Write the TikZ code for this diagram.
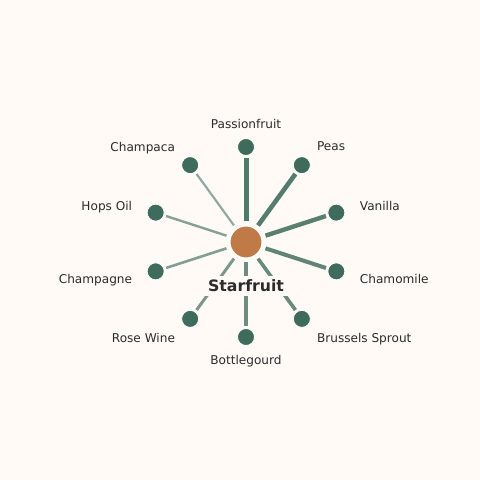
\documentclass[tikz,border=0pt]{standalone}
\usepackage{fontspec}
\setmainfont{DejaVu Sans}
\usetikzlibrary{calc}
\definecolor{bgcol}{HTML}{FFFAF6}
\definecolor{leafcol}{HTML}{3E6B5C}
\definecolor{hubcol}{HTML}{C07A48}
\definecolor{txtcol}{HTML}{2B2B2B}
\tikzset{
    leaf/.style={circle,fill=leafcol,draw=white,line width=0.8bp,minimum size=17bp,inner sep=0pt},
    hub/.style={circle,fill=hubcol,draw=white,line width=2bp,minimum size=33bp,inner sep=0pt},
    link/.style={draw=leafcol,line cap=butt,shorten <=3bp,shorten >=2bp},
    tag/.style={text=txtcol,inner sep=1.5bp,text depth=0pt,font=\fontsize{12.1bp}{14bp}\selectfont}
}
\begin{document}
\begin{tikzpicture}[x=1bp,y=1bp]
    \useasboundingbox (0,0) rectangle (480,480);
    \fill[bgcol] (0,0) rectangle (480,480);%背景
    \coordinate (o) at (246,238);
    \node[hub] (star) at (o) {};%中心
    % 外圈的点
    \node[leaf] (passionfruit) at ($(o)+(90:95)$) {};
    \node[leaf] (peas) at ($(o)+(54:95)$) {};
    \node[leaf] (vanilla) at ($(o)+(18:95)$) {};
    \node[leaf] (chamomile) at ($(o)+(-18:95)$) {};
    \node[leaf] (brussels) at ($(o)+(-54:95)$) {};
    \node[leaf] (bottlegourd) at ($(o)+(-90:95)$) {};
    \node[leaf] (rosewine) at ($(o)+(-126:95)$) {};
    \node[leaf] (champagne) at ($(o)+(-162:95)$) {};
    \node[leaf] (hopsoil) at ($(o)+(162:95)$) {};
    \node[leaf] (champaca) at ($(o)+(126:95)$) {};
    % 连线,越粗越深
    \draw[link,line width=5bp,draw opacity=0.9] (star) -- (passionfruit);
    \draw[link,line width=4.6bp,draw opacity=0.88] (star) -- (peas);
    \draw[link,line width=4.4bp,draw opacity=0.86] (star) -- (vanilla);
    \draw[link,line width=4bp,draw opacity=0.82] (star) -- (chamomile);
    \draw[link,line width=3.6bp,draw opacity=0.78] (star) -- (brussels);
    \draw[link,line width=3.4bp,draw opacity=0.76] (star) -- (bottlegourd);
    \draw[link,line width=3bp,draw opacity=0.68] (star) -- (rosewine);
    \draw[link,line width=2.6bp,draw opacity=0.64] (star) -- (champagne);
    \draw[link,line width=2.4bp,draw opacity=0.62] (star) -- (hopsoil);
    \draw[link,line width=2.2bp,draw opacity=0.56] (star) -- (champaca);
    % 标签
    \node[tag] (tpassionfruit) at ($(o)+(90:118)$) {Passionfruit};
    \node[tag,anchor=west] (tpeas) at ($(o)+(54:118)$) {Peas};
    \node[tag,anchor=west] (tvanilla) at ($(o)+(18:118)$) {Vanilla};
    \node[tag,anchor=west] (tchamomile) at ($(o)+(-18:118)$) {Chamomile};
    \node[tag,anchor=west] (tbrussels) at ($(o)+(-54:118)$) {Brussels Sprout};
    \node[tag] (tbottlegourd) at ($(o)+(-90:118)$) {Bottlegourd};
    \node[tag,anchor=east] (trosewine) at ($(o)+(-126:118)$) {Rose Wine};
    \node[tag,anchor=east] (tchampagne) at ($(o)+(-162:118)$) {Champagne};
    \node[tag,anchor=east] (thopsoil) at ($(o)+(162:118)$) {Hops Oil};
    \node[tag,anchor=east] (tchampaca) at ($(o)+(126:118)$) {Champaca};
    \node[fill=bgcol,text=txtcol,inner sep=4bp,font=\bfseries\fontsize{15.7bp}{18bp}\selectfont] (tstar) at (246,194) {Starfruit};
\end{tikzpicture}
\end{document}
